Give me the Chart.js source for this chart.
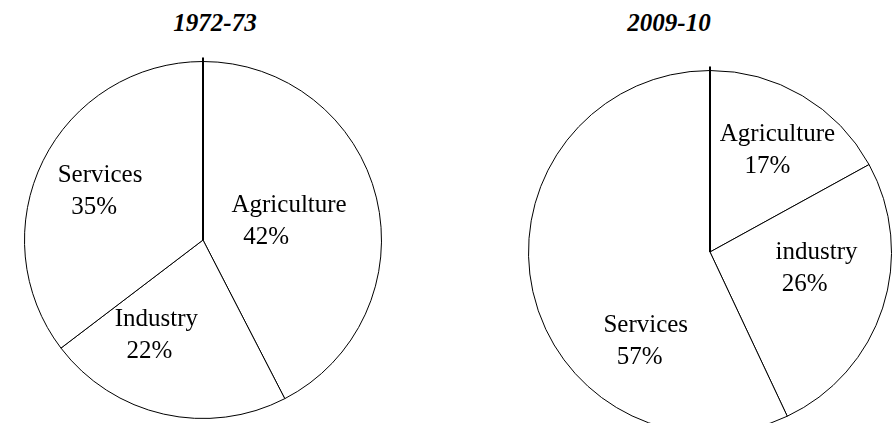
<!DOCTYPE html>
<html>
<head>
<meta charset="utf-8">
<script src="https://cdn.jsdelivr.net/npm/chart.js@4"></script>
<style>
  html, body { margin: 0; padding: 0; background: #fff; overflow: hidden; }
  body { width: 892px; height: 423px; position: relative; font-family: "Liberation Serif", "Times New Roman", serif; }
  .title { position: absolute; top: 8px; width: 200px; text-align: center; font-weight: bold; font-style: italic; font-size: 25px; line-height: 30px; color: #000; }
  .box { position: absolute; }
  .probe { position: absolute; left: -999px; font-size: 25px; }
</style>
</head>
<body>
<span class="probe">Agriculture 42%</span>
<div class="title" style="left:115px">1972-73</div>
<div class="title" style="left:569px">2009-10</div>
<div class="box" style="left:18px;top:57px;width:370px;height:366px"><canvas id="pie1"></canvas></div>
<div class="box" style="left:522px;top:66px;width:376px;height:372px"><canvas id="pie2"></canvas></div>
<script>
// 1972-73 shares (%)
const labels1 = ["Agriculture", "Industry", "Services"];
const values1 = [42, 22, 35];
// 2009-10 shares (%)
const labels2 = ["Agriculture", "industry", "Services"];
const values2 = [17, 26, 57];

const FONT = '25px "Liberation Serif", "Times New Roman", serif';

// labels drawn inside the slices, nudged to sit where the original puts them
const sliceLabels = {
  id: "sliceLabels",
  afterDatasetsDraw(chart, args, opts) {
    const ctx = chart.ctx;
    const meta = chart.getDatasetMeta(0);
    const data = chart.data.datasets[0].data;
    ctx.save();
    ctx.font = FONT;
    ctx.fillStyle = "#000";
    ctx.textAlign = "center";
    ctx.textBaseline = "middle";
    meta.data.forEach((arc, i) => {
      const mid = (arc.startAngle + arc.endAngle) / 2;
      const r = arc.outerRadius * opts.ratio;
      const n = opts.nudge[i] || [0, 0, 0];
      const x = arc.x + Math.cos(mid) * r + n[0];
      const y = arc.y + Math.sin(mid) * r + n[1];
      ctx.fillText(chart.data.labels[i], x, y - 16);
      ctx.fillText(data[i] + "%", x + n[2], y + 16);
    });
    // heavier start line at 12 o'clock, poking slightly above the rim
    const a = meta.data[0];
    ctx.strokeStyle = "#000";
    ctx.lineWidth = 2;
    ctx.beginPath();
    ctx.moveTo(a.x, a.y);
    ctx.lineTo(a.x, a.y - a.outerRadius - 4);
    ctx.stroke();
    ctx.restore();
  }
};

function makePie(id, labels, values, nudge) {
  return new Chart(document.getElementById(id), {
    type: "pie",
    data: {
      labels: labels,
      datasets: [{
        data: values,
        backgroundColor: "#ffffff",
        borderColor: "#000000",
        borderWidth: 1,
        borderAlign: "center"
      }]
    },
    options: {
      responsive: true,
      maintainAspectRatio: false,
      animation: false,
      layout: { padding: 4 },
      plugins: {
        legend: { display: false },
        tooltip: { enabled: false },
        sliceLabels: { ratio: 0.6, nudge: nudge }
      }
    },
    plugins: [sliceLabels]
  });
}

function draw() {
  makePie("pie1", labels1, values1, [[-18, 7, -23], [-23, -9, -7], [-7, -1, -6]]);
  makePie("pie2", labels2, values2, [[12, -8, -10], [3, -17, -12], [42, 66, -6]]);
}

document.fonts.load(FONT).then(draw, draw);
</script>
</body>
</html>
